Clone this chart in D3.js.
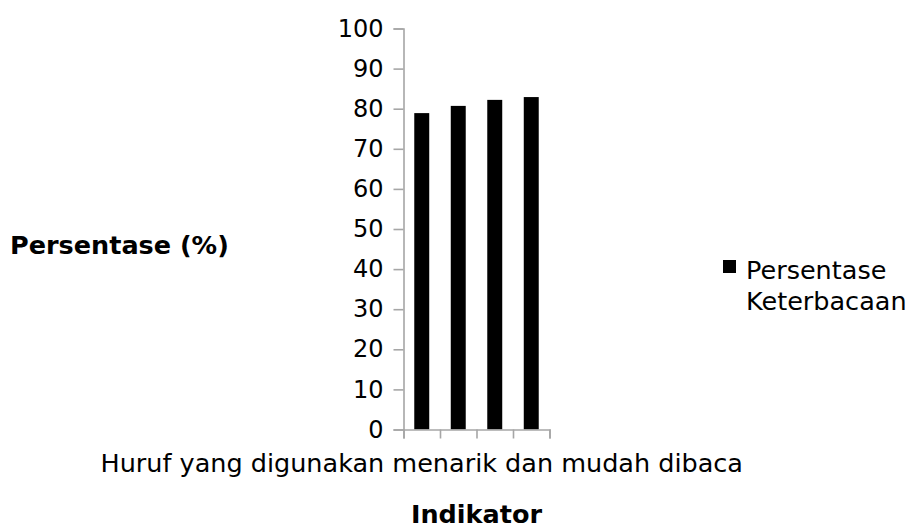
<!DOCTYPE html>
<html>
<head>
<meta charset="utf-8">
<script src="https://cdn.jsdelivr.net/npm/d3@7"></script>
<style>
  html, body { margin: 0; padding: 0; background: #fff; }
  svg { display: block; font-family: "DejaVu Sans", sans-serif; }
</style>
</head>
<body>
<svg id="chart" width="908" height="528"></svg>
<script>
const categories = ["Huruf yang digunakan menarik dan mudah dibaca", "", "", ""];
const values = [78.9, 80.7, 82.2, 82.9];
const yTicks = [0, 10, 20, 30, 40, 50, 60, 70, 80, 90, 100];
const seriesName = ["Persentase", "Keterbacaan"];
const yTitle = "Persentase (%)";
const xTitle = "Indikator";

const svg = d3.select("#chart");
const axisColor = "#a6a6a6";
const fsTick = 24;
const fs = 25.5;

const x = d3.scaleBand()
  .domain(d3.range(categories.length))
  .range([403.5, 549.5])
  .paddingInner(0.59)
  .paddingOuter(0.295);

const y = d3.scaleLinear().domain([0, 100]).range([429.5, 28.5]);

// bars
svg.append("g").selectAll("rect")
  .data(values)
  .join("rect")
  .attr("x", (d, i) => x(i))
  .attr("width", x.bandwidth())
  .attr("y", d => y(d))
  .attr("height", d => y(0) - y(d))
  .attr("fill", "#000");

// y axis
const yAxis = svg.append("g").attr("transform", `translate(${x.range()[0]},0)`)
  .call(d3.axisLeft(y).tickValues(yTicks).tickSize(10).tickPadding(10).tickFormat(d3.format("d")));
yAxis.select(".domain").attr("stroke", axisColor).attr("stroke-width", 1.6);
yAxis.selectAll(".tick line").attr("stroke", axisColor).attr("stroke-width", 1.6);
yAxis.selectAll(".tick text").attr("font-size", fsTick).attr("font-family", "DejaVu Sans").attr("fill", "#000");

// x axis (category boundary ticks)
const xb = d3.scaleLinear().domain([0, categories.length]).range(x.range());
const xAxis = svg.append("g").attr("transform", `translate(0,${y(0)})`)
  .call(d3.axisBottom(xb).tickValues(d3.range(categories.length + 1)).tickSize(9).tickFormat(""));
xAxis.select(".domain").attr("stroke", axisColor).attr("stroke-width", 1.6);
xAxis.selectAll(".tick line").attr("stroke", axisColor).attr("stroke-width", 1.6);

// category labels
svg.append("g").selectAll("text")
  .data(categories)
  .join("text")
  .attr("x", (d, i) => x(i) + x.bandwidth() / 2)
  .attr("y", 472)
  .attr("text-anchor", "middle")
  .attr("font-size", fs)
  .text(d => d);

// axis titles
svg.append("text")
  .attr("x", 10).attr("y", 254)
  .attr("font-size", fs).attr("font-weight", "bold")
  .text(yTitle);

svg.append("text")
  .attr("x", (x.range()[0] + x.range()[1]) / 2).attr("y", 523)
  .attr("text-anchor", "middle")
  .attr("font-size", fs).attr("font-weight", "bold")
  .text(xTitle);

// legend
svg.append("rect")
  .attr("x", 723).attr("y", 260).attr("width", 13).attr("height", 13)
  .attr("fill", "#000");
svg.append("g").selectAll("text")
  .data(seriesName)
  .join("text")
  .attr("x", 746)
  .attr("y", (d, i) => 279 + i * 31)
  .attr("font-size", fs)
  .text(d => d);
</script>
</body>
</html>
